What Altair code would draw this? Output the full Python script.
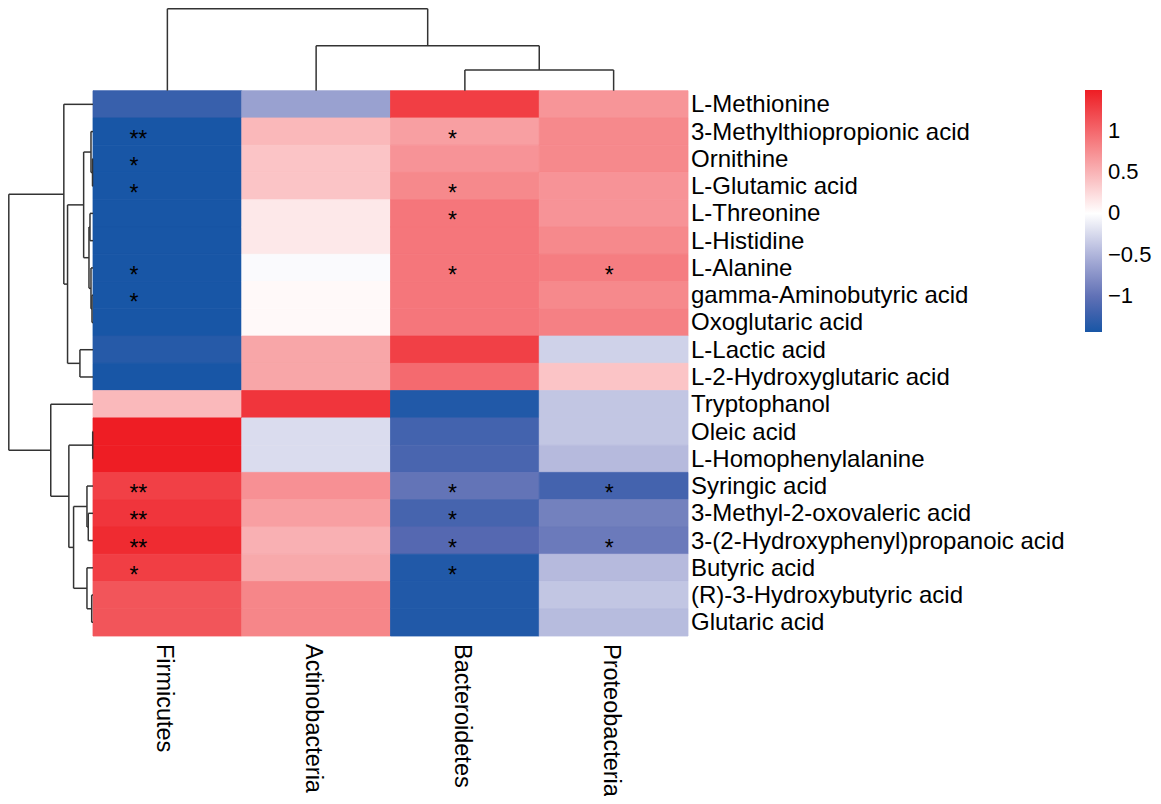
import altair as alt
import pandas as pd

# ---------------- data ----------------
metabolites = [
    "L-Methionine", "3-Methylthiopropionic acid", "Ornithine", "L-Glutamic acid",
    "L-Threonine", "L-Histidine", "L-Alanine", "gamma-Aminobutyric acid",
    "Oxoglutaric acid", "L-Lactic acid", "L-2-Hydroxyglutaric acid", "Tryptophanol",
    "Oleic acid", "L-Homophenylalanine", "Syringic acid", "3-Methyl-2-oxovaleric acid",
    "3-(2-Hydroxyphenyl)propanoic acid", "Butyric acid", "(R)-3-Hydroxybutyric acid",
    "Glutaric acid",
]
phyla = ["Firmicutes", "Actinobacteria", "Bacteroidetes", "Proteobacteria"]

firmicutes = [-1.24, -1.43, -1.43, -1.43, -1.43, -1.43, -1.43, -1.43, -1.43, -1.35,
              -1.43, 0.46, 1.49, 1.49, 1.26, 1.33, 1.40, 1.27, 1.12, 1.12]
actinobacteria = [-0.64, 0.47, 0.39, 0.39, 0.15, 0.15, -0.03, 0.04, 0.04, 0.59,
                  0.59, 1.33, -0.23, -0.23, 0.73, 0.63, 0.52, 0.57, 0.80, 0.80]
bacteroidetes = [1.27, 0.63, 0.71, 0.78, 0.90, 0.90, 0.90, 0.90, 0.90, 1.26,
                 0.98, -1.38, -1.18, -1.14, -0.98, -1.16, -1.07, -1.38, -1.38, -1.38]
proteobacteria = [0.70, 0.78, 0.78, 0.71, 0.71, 0.78, 0.86, 0.78, 0.84, -0.30,
                  0.39, -0.38, -0.38, -0.46, -1.17, -0.88, -0.93, -0.46, -0.38, -0.45]

star_metabolite = [
    "3-Methylthiopropionic acid", "3-Methylthiopropionic acid", "Ornithine",
    "L-Glutamic acid", "L-Glutamic acid", "L-Threonine", "L-Alanine", "L-Alanine",
    "L-Alanine", "gamma-Aminobutyric acid", "Syringic acid", "Syringic acid",
    "Syringic acid", "3-Methyl-2-oxovaleric acid", "3-Methyl-2-oxovaleric acid",
    "3-(2-Hydroxyphenyl)propanoic acid", "3-(2-Hydroxyphenyl)propanoic acid",
    "3-(2-Hydroxyphenyl)propanoic acid", "Butyric acid", "Butyric acid",
]
star_phylum = [
    "Firmicutes", "Bacteroidetes", "Firmicutes",
    "Firmicutes", "Bacteroidetes", "Bacteroidetes", "Firmicutes", "Bacteroidetes",
    "Proteobacteria", "Firmicutes", "Firmicutes", "Bacteroidetes",
    "Proteobacteria", "Firmicutes", "Bacteroidetes",
    "Firmicutes", "Bacteroidetes",
    "Proteobacteria", "Firmicutes", "Bacteroidetes",
]
star_label = ["**", "*", "*", "*", "*", "*", "*", "*", "*", "*",
              "**", "*", "*", "**", "*", "**", "*", "*", "*", "*"]

# row dendrogram (leaves r0..r19 in display order, merges m0..)
row_merge_a = ["r2", "r1", "r4", "r7", "r6", "m2", "m1", "r9", "m6", "r0",
               "r12", "r15", "r14", "r18", "r17", "m12", "m10", "r11", "m9"]
row_merge_b = ["r3", "m0", "r5", "r8", "m3", "m4", "m5", "r10", "m7", "m8",
               "r13", "r16", "m11", "r19", "m13", "m14", "m15", "m16", "m17"]
row_merge_h = [0.05, 0.2, 0.3, 0.1, 0.2, 0.4, 0.93, 1.3, 2.53, 2.9,
               0.03, 0.47, 0.6, 0.13, 0.6, 1.93, 2.4, 4.2, 8.37]

# column dendrogram
col_merge_a = ["r2", "r1", "r0"]
col_merge_b = ["r3", "m0", "m1"]
col_merge_h = [2.1, 4.57, 8.33]

# colour ramp (blue - lavender - white - red)
color_stops = [-1.43, -1.0725, -0.715, -0.3575, 0, 1.49]
color_values = ["#1856a6", "#5568b1", "#8d96ca", "#c6c9e5", "#ffffff", "#ee1d24"]
legend_values = [-1, -0.5, 0, 0.5, 1]


def dendro_segments(n, a_list, b_list, h_list):
    pos, hgt = {}, {}
    for i in range(n):
        pos[f"r{i}"] = i + 0.5
        hgt[f"r{i}"] = 0.0
    segs = []
    for j, (a, b, h) in enumerate(zip(a_list, b_list, h_list)):
        pa, pb = pos[a], pos[b]
        segs.append(dict(p1=pa, p2=pb, h1=h, h2=h))
        segs.append(dict(p1=pa, p2=pa, h1=hgt[a], h2=h))
        segs.append(dict(p1=pb, p2=pb, h1=hgt[b], h2=h))
        pos[f"m{j}"] = (pa + pb) / 2
        hgt[f"m{j}"] = h
    return pd.DataFrame(segs)


series = [firmicutes, actinobacteria, bacteroidetes, proteobacteria]
cells = []
for ci, (ph, vals) in enumerate(zip(phyla, series)):
    for ri, (met, v) in enumerate(zip(metabolites, vals)):
        cells.append(dict(phylum=ph, metabolite=met, c0=ci, c1=ci + 1,
                          r0=ri, r1=ri + 1, value=v))
cell_df = pd.DataFrame(cells)

row_lab_df = pd.DataFrame(dict(metabolite=metabolites,
                               yc=[i + 0.5 for i in range(len(metabolites))],
                               xc=[len(phyla)] * len(metabolites)))
col_lab_df = pd.DataFrame(dict(phylum=phyla,
                               xc=[i + 0.5 for i in range(len(phyla))],
                               yc=[len(metabolites)] * len(phyla)))
star_df = pd.DataFrame(dict(
    metabolite=star_metabolite, phylum=star_phylum, label=star_label,
    xc=[phyla.index(p) + 0.5 for p in star_phylum],
    yc=[metabolites.index(m) + 0.5 for m in star_metabolite]))

row_seg = dendro_segments(len(metabolites), row_merge_a, row_merge_b, row_merge_h)
col_seg = dendro_segments(len(phyla), col_merge_a, col_merge_b, col_merge_h)

# ---------------- scales ----------------
FONT = "Liberation Sans"
xcol = alt.Scale(domain=[0, 4], range=[85, 680], nice=False, zero=False)
yrow = alt.Scale(domain=[0, 20], range=[82.7, 628], nice=False, zero=False)
xh = alt.Scale(domain=[0, 8.4], range=[85, 0.5], nice=False, zero=False)
yh = alt.Scale(domain=[0, 8.33], range=[82.7, 0.75], nice=False, zero=False)

color_scale = alt.Scale(domain=color_stops, range=color_values, interpolate="rgb")

heat = alt.Chart(cell_df).mark_rect(
    stroke=alt.ExprRef("scale('color', datum.value)"), strokeWidth=0.8
).encode(
    x=alt.X("c0:Q", scale=xcol, axis=None),
    x2="c1",
    y=alt.Y("r0:Q", scale=yrow, axis=None),
    y2="r1",
    color=alt.Color("value:Q", scale=color_scale,
                    legend=alt.Legend(type="gradient", orient="none",
                                      legendX=1077, legendY=82,
                                      title=None, gradientLength=242,
                                      gradientThickness=17, labelFontSize=22,
                                      labelFont=FONT, labelColor="#000000",
                                      values=legend_values, format="~g",
                                      labelOffset=6, gradientStrokeWidth=0,
                                      direction="vertical")),
)

row_dendro = alt.Chart(row_seg).mark_rule(color="#333333", strokeWidth=1.5).encode(
    x=alt.X("h1:Q", scale=xh, axis=None), x2="h2",
    y=alt.Y("p1:Q", scale=yrow, axis=None), y2="p2",
)

col_dendro = alt.Chart(col_seg).mark_rule(color="#333333", strokeWidth=1.5).encode(
    x=alt.X("p1:Q", scale=xcol, axis=None), x2="p2",
    y=alt.Y("h1:Q", scale=yh, axis=None), y2="h2",
)

row_labels = alt.Chart(row_lab_df).mark_text(
    align="left", baseline="alphabetic", dx=3, dy=8,
    font=FONT, fontSize=24, color="#000000").encode(
    x=alt.X("xc:Q", scale=xcol, axis=None),
    y=alt.Y("yc:Q", scale=yrow, axis=None),
    text="metabolite:N",
)

col_labels = alt.Chart(col_lab_df).mark_text(
    align="left", baseline="alphabetic", angle=90, dx=8, dy=10,
    font=FONT, fontSize=23.5, color="#000000").encode(
    x=alt.X("xc:Q", scale=xcol, axis=None),
    y=alt.Y("yc:Q", scale=yrow, axis=None),
    text="phylum:N",
)

star_dx = {"Firmicutes": -38, "Actinobacteria": -15,
           "Bacteroidetes": -17, "Proteobacteria": -9}
star_layers = []
for ph in phyla:
    sub = star_df[star_df["phylum"] == ph]
    if len(sub) == 0:
        continue
    star_layers.append(
        alt.Chart(sub).mark_text(
            align="left", baseline="alphabetic", dx=star_dx[ph], dy=15,
            font=FONT, fontSize=23, color="#000000").encode(
            x=alt.X("xc:Q", scale=xcol, axis=None),
            y=alt.Y("yc:Q", scale=yrow, axis=None),
            text="label:N",
        )
    )

chart = alt.layer(heat, row_dendro, col_dendro, row_labels, col_labels,
                  *star_layers).resolve_scale(
    x="independent", y="independent"
).properties(
    width=680, height=628,
    autosize=alt.AutoSizeParams(type="none"),
    padding={"left": 0, "top": 0, "right": 465, "bottom": 160},
    background="#ffffff",
).configure_view(stroke=None)

chart.save("out.html", embed_options={"renderer": "svg", "actions": False})
